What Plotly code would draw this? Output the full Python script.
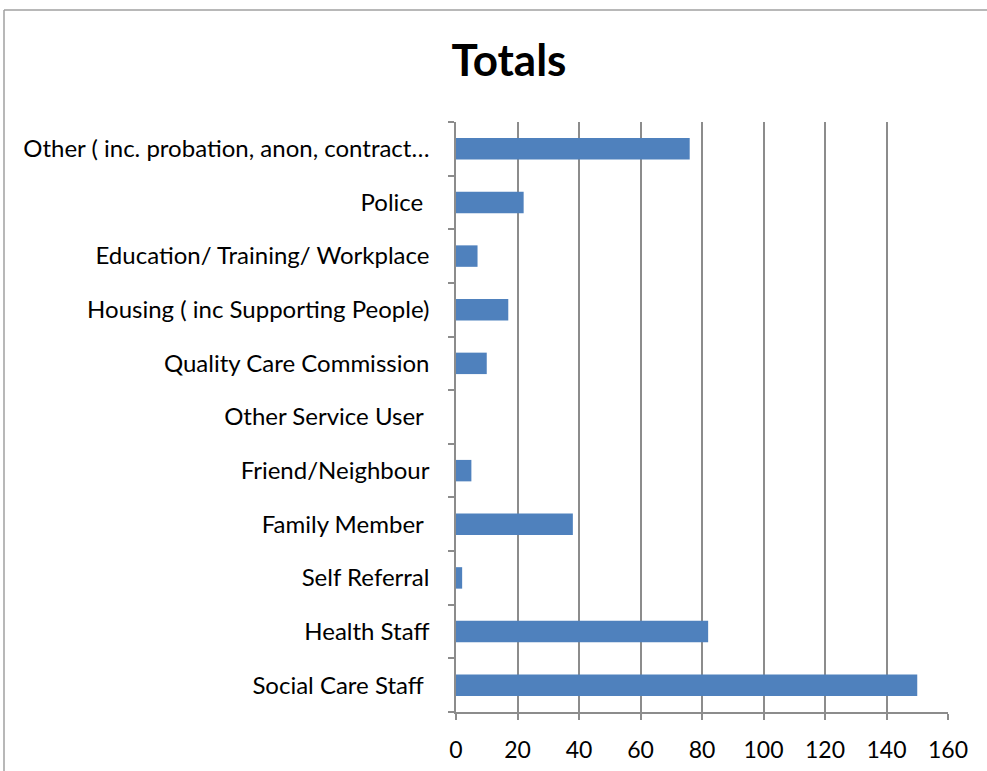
import plotly.graph_objects as go

# Data (bottom-to-top order for Plotly's category axis)
categories = [
    "Social Care Staff\u00a0",
    "Health Staff",
    "Self Referral",
    "Family Member\u00a0",
    "Friend/Neighbour",
    "Other Service User\u00a0",
    "Quality Care Commission",
    "Housing ( inc Supporting People)",
    "Education/ Training/ Workplace",
    "Police\u00a0",
    "Other ( inc. probation, anon, contract\u2026",
]
totals = [150, 82, 2, 38, 5, 0, 10, 17, 7, 22, 76]
x_ticks = [0, 20, 40, 60, 80, 100, 120, 140, 160]

W, H = 987, 771
L, R, T, B = 456, 39, 122, 59
pw, ph = W - L - R, H - T - B
FONT = "Lato, Open Sans, Liberation Sans, sans-serif"

fig = go.Figure(
    go.Bar(
        x=totals,
        y=categories,
        orientation="h",
        marker=dict(color="#4F81BD", line=dict(width=0)),
    )
)

grid = "#8c8c8c"
fig.update_layout(
    width=W,
    height=H,
    margin=dict(l=L, r=R, t=T, b=B, pad=0, autoexpand=False),
    paper_bgcolor="white",
    plot_bgcolor="white",
    bargap=0.6,
    showlegend=False,
    font=dict(family=FONT, size=24, color="black"),
    title=dict(
        text="<b>Totals</b>",
        x=509 / W,
        xanchor="center",
        y=1 - 61 / H,
        yanchor="middle",
        font=dict(size=44, family=FONT, color="black"),
    ),
    xaxis=dict(
        range=[0, 160],
        tickvals=x_ticks,
        ticktext=[str(v) for v in x_ticks],
        showgrid=True,
        gridcolor=grid,
        gridwidth=1.5,
        zeroline=False,
        showline=True,
        linecolor=grid,
        linewidth=1.5,
        ticks="outside",
        ticklen=6,
        tickcolor=grid,
        tickwidth=1.5,
        ticklabelstandoff=11,
        tickfont=dict(size=23),
        automargin=False,
        fixedrange=True,
    ),
    yaxis=dict(
        type="category",
        categoryorder="array",
        categoryarray=categories,
        showgrid=False,
        zeroline=False,
        showline=True,
        linecolor=grid,
        linewidth=1.5,
        ticks="outside",
        tickson="boundaries",
        ticklen=6,
        tickcolor=grid,
        tickwidth=1.5,
        ticklabelstandoff=20,
        tickfont=dict(size=24),
        automargin=False,
        fixedrange=True,
    ),
)

# Outer chart frame (left and top edges visible in the crop)
fx0 = (4 - L) / pw
fy1 = 1 + (T - 10) / ph
fig.add_shape(type="line", xref="paper", yref="paper", x0=fx0, x1=fx0, y0=-1, y1=fy1,
              line=dict(color="#a0a0a0", width=1.5))
fig.add_shape(type="line", xref="paper", yref="paper", x0=fx0, x1=2, y0=fy1, y1=fy1,
              line=dict(color="#a0a0a0", width=1.5))

fig.write_html(
    "out.html",
    config={"displayModeBar": False},
    post_script="document.body.style.margin='0';document.body.style.overflow='hidden';",
)
